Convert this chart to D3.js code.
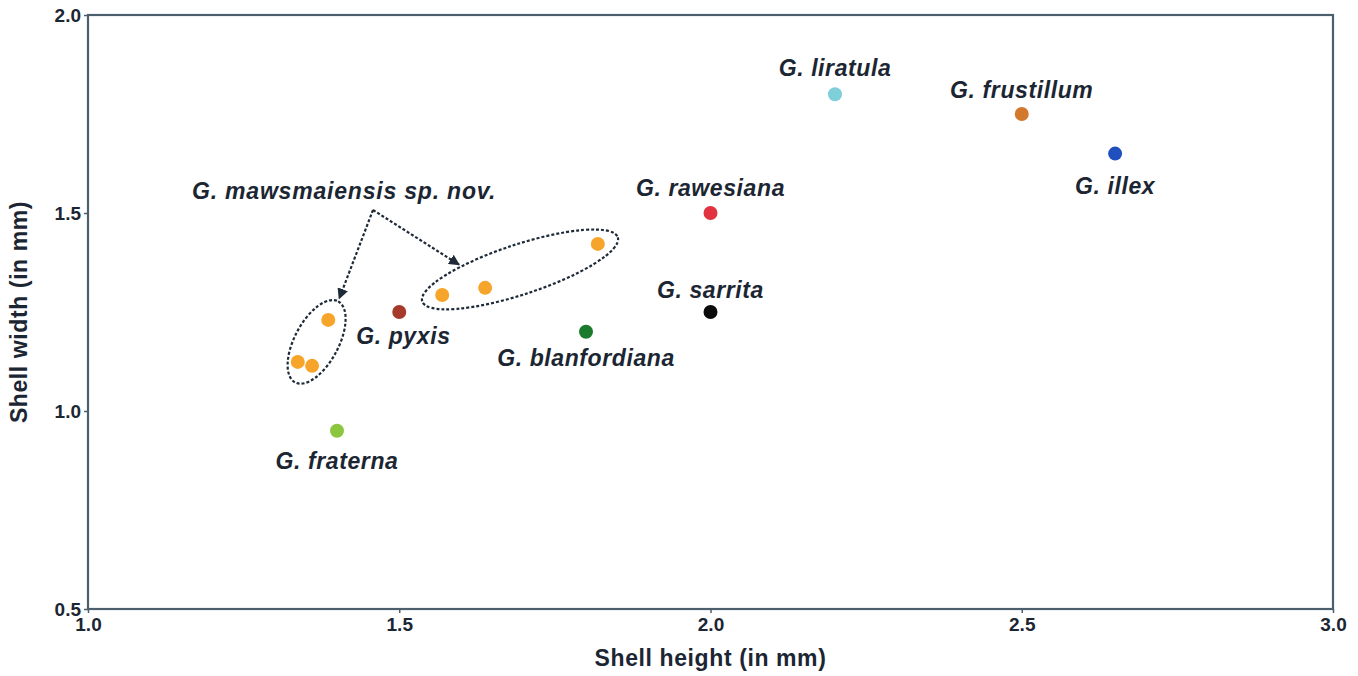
<!DOCTYPE html>
<html>
<head>
<meta charset="utf-8">
<script src="https://cdn.jsdelivr.net/npm/d3@7"></script>
<style>
  body { margin: 0; background: #fff; }
  text { font-family: "Liberation Sans", Arial, sans-serif; fill: #1c2633; }
  .tick text { font-size: 19px; font-weight: bold; }
</style>
</head>
<body>
<svg width="1358" height="676"></svg>
<script>
// species means (shell height, shell width in mm)
const species = ["G. liratula", "G. frustillum", "G. illex", "G. rawesiana", "G. sarrita",
                 "G. blanfordiana", "G. pyxis", "G. fraterna"];
const heights = [2.2, 2.5, 2.65, 2.0, 2.0, 1.8, 1.5, 1.4];
const widths  = [1.8, 1.75, 1.65, 1.5, 1.25, 1.2, 1.25, 0.95];
const colors  = ["#7fcfdb", "#d2792d", "#1f50bd", "#e1323f", "#0b0b0b", "#1b7a2b", "#a63a2a", "#8cc63f"];
// label placement: [dx, dy, anchor]
const labelPos = [[0, -18, "middle"], [0, -16, "middle"], [0, 40, "middle"], [0, -17, "middle"],
                  [0, -14, "middle"], [0, 34, "middle"], [-43, 32, "start"], [0, 38, "middle"]];

// new species samples, two clusters
const mawsHeights = [1.386, 1.337, 1.36, 1.569, 1.638, 1.819];
const mawsWidths  = [1.23, 1.124, 1.114, 1.293, 1.311, 1.422];
const mawsGroup   = [0, 0, 0, 1, 1, 1];
const mawsLabel = "G. mawsmaiensis sp. nov.";

const xTicks = [1.0, 1.5, 2.0, 2.5, 3.0];
const yTicks = [0.5, 1.0, 1.5, 2.0];

const svg = d3.select("svg");
const margin = {left: 88, right: 25, top: 15, bottom: 67};
const W = 1358, H = 676;

const x = d3.scaleLinear().domain([1.0, 3.0]).range([margin.left, W - margin.right]);
const y = d3.scaleLinear().domain([0.5, 2.0]).range([H - margin.bottom, margin.top]);

const axisColor = "#4c5f6d";

// frame
svg.append("rect")
  .attr("x", x(1.0)).attr("y", y(2.0))
  .attr("width", x(3.0) - x(1.0)).attr("height", y(0.5) - y(2.0))
  .attr("fill", "none").attr("stroke", axisColor).attr("stroke-width", 2.2);

const xAxis = svg.append("g")
  .attr("transform", `translate(0,${y(0.5)})`)
  .call(d3.axisBottom(x).tickValues(xTicks).tickFormat(d3.format(".1f")).tickSize(4).tickPadding(5));
const yAxis = svg.append("g")
  .attr("transform", `translate(${x(1.0)},0)`)
  .call(d3.axisLeft(y).tickValues(yTicks).tickFormat(d3.format(".1f")).tickSize(4).tickPadding(3));

[xAxis, yAxis].forEach(g => {
  g.attr("font-size", 19).attr("font-weight", "bold");
  g.select(".domain").remove();
  g.selectAll(".tick line").attr("stroke", axisColor).attr("stroke-width", 1.5);
  g.selectAll(".tick text").attr("fill", "#1c2633");
});

// axis titles
svg.append("text")
  .attr("x", (x(1.0) + x(3.0)) / 2).attr("y", 666)
  .attr("text-anchor", "middle").attr("font-size", 23).attr("font-weight", "bold")
  .attr("letter-spacing", 0.6)
  .text("Shell height (in mm)");
svg.append("text")
  .attr("transform", `translate(27,${(y(0.5) + y(2.0)) / 2}) rotate(-90)`)
  .attr("text-anchor", "middle").attr("font-size", 23).attr("font-weight", "bold")
  .attr("letter-spacing", 0.6)
  .text("Shell width (in mm)");

// species points
const pts = species.map((s, i) => ({name: s, h: heights[i], w: widths[i], c: colors[i], lp: labelPos[i]}));
svg.selectAll("circle.sp").data(pts).enter().append("circle")
  .attr("class", "sp")
  .attr("cx", d => x(d.h)).attr("cy", d => y(d.w)).attr("r", 7)
  .attr("fill", d => d.c);
svg.selectAll("text.sp").data(pts).enter().append("text")
  .attr("class", "sp")
  .attr("x", d => x(d.h) + d.lp[0]).attr("y", d => y(d.w) + d.lp[1])
  .attr("text-anchor", d => d.lp[2])
  .attr("font-size", 23).attr("font-weight", "bold").attr("font-style", "italic")
  .attr("letter-spacing", 0.6)
  .text(d => d.name);

// new species clusters and dashed ellipses
const maws = mawsHeights.map((h, i) => ({h: h, w: mawsWidths[i], g: mawsGroup[i]}));
const dash = "#1e2a38";
const ellipses = d3.groups(maws, d => d.g).map(([g, arr]) => {
  const p = arr.map(d => [x(d.h), y(d.w)]).sort((a, b) => a[0] - b[0]);
  // ends of the cluster along its long direction
  let a, b;
  if (g === 0) { a = [(p[0][0] + p[1][0]) / 2, (p[0][1] + p[1][1]) / 2]; b = p[2]; }
  else { a = p[0]; b = p[p.length - 1]; }
  const ang = Math.atan2(b[1] - a[1], b[0] - a[0]);
  const len = Math.hypot(b[0] - a[0], b[1] - a[1]);
  return {cx: (a[0] + b[0]) / 2, cy: (a[1] + b[1]) / 2, ang: ang,
          rx: len / 2 + 21, ry: g === 0 ? 22 : 25};
});

svg.selectAll("ellipse").data(ellipses).enter().append("ellipse")
  .attr("cx", 0).attr("cy", 0).attr("rx", d => d.rx).attr("ry", d => d.ry)
  .attr("transform", d => `translate(${d.cx},${d.cy}) rotate(${d.ang * 180 / Math.PI})`)
  .attr("fill", "none").attr("stroke", dash).attr("stroke-width", 2.2)
  .attr("stroke-dasharray", "3,2");

svg.selectAll("circle.mw").data(maws).enter().append("circle")
  .attr("class", "mw")
  .attr("cx", d => x(d.h)).attr("cy", d => y(d.w)).attr("r", 7)
  .attr("fill", "#f6a52a");

// label and arrows
const lx = 192, ly = 199;
svg.append("text")
  .attr("x", lx).attr("y", ly)
  .attr("font-size", 23).attr("font-weight", "bold").attr("font-style", "italic")
  .attr("letter-spacing", 0.8)
  .text(mawsLabel);

svg.append("defs").append("marker")
  .attr("id", "ah").attr("viewBox", "0 0 10 10").attr("refX", 9).attr("refY", 5)
  .attr("markerWidth", 5).attr("markerHeight", 5).attr("orient", "auto")
  .append("path").attr("d", "M0,0 L10,5 L0,10 z").attr("fill", dash);

const origin = [lx + 181, ly + 11];
// arrow tips: point on each ellipse at a given parametric angle
const tipParam = [0, -122 * Math.PI / 180];
ellipses.forEach((e, i) => {
  const t = tipParam[i];
  const ux = e.rx * Math.cos(t), uy = e.ry * Math.sin(t);
  const tx = e.cx + ux * Math.cos(e.ang) - uy * Math.sin(e.ang);
  const ty = e.cy + ux * Math.sin(e.ang) + uy * Math.cos(e.ang);
  const d = Math.hypot(tx - origin[0], ty - origin[1]);
  const ex = tx - (tx - origin[0]) / d * 3, ey = ty - (ty - origin[1]) / d * 3;
  svg.append("line")
    .attr("x1", origin[0]).attr("y1", origin[1]).attr("x2", ex).attr("y2", ey)
    .attr("stroke", dash).attr("stroke-width", 2.2).attr("stroke-dasharray", "3,2")
    .attr("marker-end", "url(#ah)");
});
</script>
</body>
</html>
